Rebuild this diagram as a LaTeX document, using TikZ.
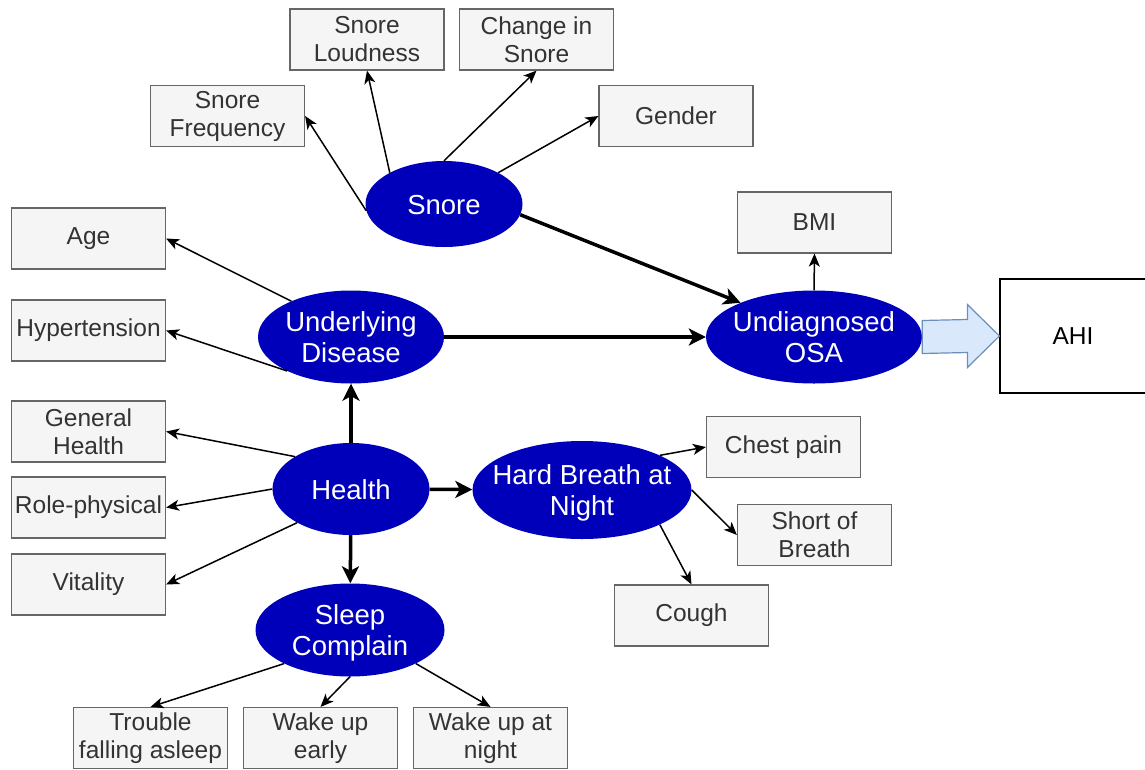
\documentclass[tikz,border=0pt]{standalone}
\usepackage{fontspec}
\setmainfont{Liberation Sans}
\usetikzlibrary{shapes.geometric}
\usetikzlibrary{arrows.meta,calc}
\definecolor{boxfill}{HTML}{F5F5F5}
\definecolor{boxline}{HTML}{666666}
\definecolor{boxtext}{HTML}{333333}
\definecolor{ovalblue}{HTML}{0000BB}
\definecolor{arrowfill}{HTML}{DAE8FC}
\definecolor{arrowline}{HTML}{6C8EBF}
\newcommand{\ovaltext}[1]{\raisebox{-4pt}[\height][\depth]{\makebox[0pt]{\begin{tabular}{@{}c@{}}#1\end{tabular}}}}

\begin{document}
\begin{tikzpicture}[x=1pt,y=-1pt,
    factor/.style={draw=boxline,fill=boxfill,text=boxtext,line width=1.2pt,rectangle,
        minimum width=154pt,minimum height=61pt,inner sep=0pt,align=center,
        font=\fontsize{24.5}{28}\selectfont},
    latent/.style={ellipse,fill=ovalblue,text=white,inner sep=0pt,
        font=\fontsize{27.5}{30.5}\selectfont},
    link/.style={draw,line width=1.5pt,-{Stealth[length=13pt,width=11pt,inset=3.5pt]}},
    strong/.style={draw,line width=3.5pt,-{Stealth[length=17pt,width=17pt,inset=4.5pt]}},
]
\useasboundingbox (0,0) rectangle (1145,769);
        % latent variables
        \node[latent,minimum width=157pt,minimum height=86pt] (snore) at (444,204) {\ovaltext{Snore}};
        \node[latent,minimum width=186pt,minimum height=93pt] (disease) at (351,337) {\ovaltext{Underlying\\Disease}};
        \node[latent,minimum width=216pt,minimum height=93pt] (osa) at (814,337) {\ovaltext{Undiagnosed\\OSA}};
        \node[latent,minimum width=157pt,minimum height=92pt] (health) at (351,489) {\ovaltext{Health}};
        \node[latent,minimum width=219pt,minimum height=98pt] (breath) at (582,490) {\ovaltext{Hard Breath at\\Night}};
        \node[latent,minimum width=189pt,minimum height=93pt] (sleep) at (350,630) {\ovaltext{Sleep\\Complain}};
        % observed items
        \node[factor] (loud) at (367,39.5) {Snore\\Loudness};
        \node[factor] (change) at (536.5,39.5) {Change in\\Snore};
        \node[factor] (freq) at (227.5,116) {Snore\\Frequency};
        \node[factor] (gender) at (676,116) {Gender};
        \node[factor] (bmi) at (814.5,222.5) {BMI};
        \node[factor] (age) at (88.5,238.5) {Age};
        \node[factor] (hyp) at (88.5,330.5) {Hypertension};
        \node[factor] (gh) at (88.5,431.5) {General\\Health};
        \node[factor] (rp) at (88.5,507.5) {Role-physical};
        \node[factor] (vit) at (88.5,584.5) {Vitality};
        \node[factor] (chest) at (783.5,447) {Chest pain};
        \node[factor] (short) at (814.5,535) {Short of\\Breath};
        \node[factor] (cough) at (691.5,615.5) {Cough};
        \node[factor] (trouble) at (150.5,738) {Trouble\\falling asleep};
        \node[factor] (early) at (320.5,738) {Wake up\\early};
        \node[factor] (night) at (490.5,738) {Wake up at\\night};
        \node[draw,line width=1.2pt,minimum width=146pt,minimum height=114pt,inner sep=0pt,
            font=\fontsize{24.5}{28}\selectfont] (ahi) at (1073,336) {AHI};
        % structural paths
            \path[strong] (snore.352) -- (osa.155);
            \path[strong] (disease) -- (osa);
            \path[strong] (health) -- (disease);
            \path[strong] (health) -- (breath);
            \path[strong] (health) -- (sleep);
        % measurement paths
            \path[link] (snore.185) -- (freq.east);
            \path[link] (snore.150) -- (loud.south);
            \path[link] (snore.90) -- (change.south);
            \path[link] (snore.30) -- (gender.west);
            \path[link] (osa.north) -- (bmi.south);
            \path[link] (disease.149) -- (age.east);
            \path[link] (disease.208) -- (hyp.east);
            \path[link] (health.150) -- (gh.east);
            \path[link] (health.west) -- (rp.east);
            \path[link] (health.212) -- (vit.east);
            \path[link] (breath.24) -- (chest.west);
            \path[link] (breath.east) -- (short.west);
            \path[link] (breath.336) -- (cough.north);
            \path[link] (sleep.207) -- (trouble.north);
            \path[link] (sleep.south) -- (early.north);
            \path[link] (sleep.333) -- (night.north);
        % block arrow to AHI
        \filldraw[fill=arrowfill,draw=arrowline,line width=1.2pt]
            ($(osa.east)+(0,-16.5)$) -- ($(ahi.west)+(-32,-16.5)$) -- ($(ahi.west)+(-32,-31.5)$)
            -- (ahi.west) -- ($(ahi.west)+(-32,31.5)$) -- ($(ahi.west)+(-32,16.5)$)
            -- ($(osa.east)+(0,16.5)$) -- cycle;
\end{tikzpicture}
\end{document}
